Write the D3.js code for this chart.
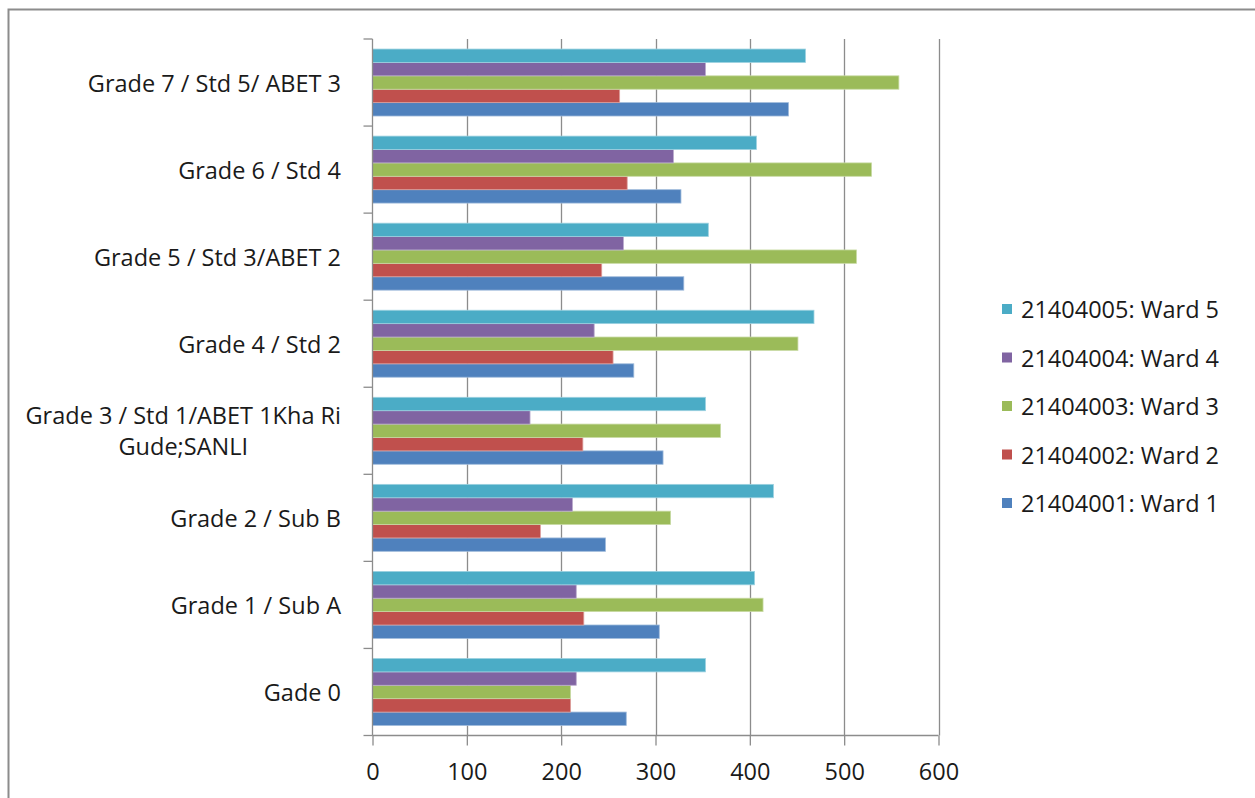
<!DOCTYPE html>
<html>
<head>
<meta charset="utf-8">
<script src="https://cdn.jsdelivr.net/npm/d3@7/dist/d3.min.js"></script>
<style>
  html, body { margin: 0; padding: 0; background: #fff; }
  svg { display: block; }
  text { font-family: "Open Sans", "Noto Sans", sans-serif; fill: #1a1a1a; }
</style>
</head>
<body>
<svg id="chart" width="1255" height="798"></svg>
<script>
// Categories, bottom to top
const categories = [
  "Gade 0",
  "Grade 1 / Sub A",
  "Grade 2 / Sub B",
  "Grade 3 / Std 1/ABET 1Kha Ri Gude;SANLI",
  "Grade 4 / Std 2",
  "Grade 5 / Std 3/ABET 2",
  "Grade 6 / Std 4",
  "Grade 7 / Std 5/ ABET 3"
];

const seriesNames = [
  "21404001: Ward 1",
  "21404002: Ward 2",
  "21404003: Ward 3",
  "21404004: Ward 4",
  "21404005: Ward 5"
];

const ward1 = [269, 304, 247, 308, 277, 330, 327, 441];
const ward2 = [210, 224, 178, 223, 255, 243, 270, 262];
const ward3 = [210, 414, 316, 369, 451, 513, 529, 558];
const ward4 = [216, 216, 212, 167, 235, 266, 319, 353];
const ward5 = [353, 405, 425, 353, 468, 356, 407, 459];

const seriesColors = ["#4F81BD", "#C0504D", "#9BBB59", "#8064A2", "#4BACC6"];
const xTicks = [0, 100, 200, 300, 400, 500, 600];

const seriesValues = [ward1, ward2, ward3, ward4, ward5];
const series = seriesNames.map((name, i) => ({
  name, color: seriesColors[i], values: seriesValues[i]
}));

const FONT = 23.5;
const svg = d3.select("#chart");

// Outer chart frame (only top and left edges fall inside the view)
svg.append("rect")
  .attr("x", 8.5).attr("y", 9.5)
  .attr("width", 1300).attr("height", 900)
  .attr("fill", "#fff")
  .attr("stroke", "#8c8c8c")
  .attr("stroke-width", 2);

const plot = { left: 372.5, right: 938.5, top: 39, bottom: 735.5 };

const x = d3.scaleLinear().domain([0, 600]).range([plot.left, plot.right]);

// Top category first in the band scale
const y = d3.scaleBand()
  .domain(categories.slice().reverse())
  .range([plot.top, plot.bottom])
  .paddingInner(0).paddingOuter(0);

// Series inside a band: Ward 5 on top, Ward 1 at the bottom
const ySub = d3.scaleBand()
  .domain(seriesNames.slice().reverse())
  .range([0, y.bandwidth()])
  .paddingInner(0).paddingOuter(0.75);

// Vertical gridlines
svg.append("g")
  .selectAll("line")
  .data(xTicks.filter(d => d > 0))
  .join("line")
  .attr("x1", d => Math.round(x(d)) + 0.5)
  .attr("x2", d => Math.round(x(d)) + 0.5)
  .attr("y1", plot.top)
  .attr("y2", plot.bottom)
  .attr("stroke", "#8c8c8c")
  .attr("stroke-width", 1.3);

// Bars
const groups = svg.append("g")
  .selectAll("g")
  .data(categories)
  .join("g")
  .attr("transform", d => `translate(0,${y(d)})`);

groups.selectAll("rect")
  .data((d, ci) => series.map(s => ({ s, v: s.values[ci] })))
  .join("rect")
  .attr("x", x(0))
  .attr("y", d => ySub(d.s.name))
  .attr("width", d => x(d.v) - x(0))
  .attr("height", ySub.bandwidth())
  .attr("fill", d => d.s.color)
  .attr("stroke", d => d3.interpolateRgb(d.s.color, "#ffffff")(0.45))
  .attr("stroke-width", 0.8);

// Bottom value axis
const xAxis = d3.axisBottom(x)
  .tickValues(xTicks)
  .tickSize(10)
  .tickPadding(18)
  .tickFormat(d3.format("d"));

const gx = svg.append("g")
  .attr("transform", `translate(0,${plot.bottom})`)
  .call(xAxis);
gx.select(".domain").attr("stroke", "#8c8c8c").attr("stroke-width", 1.3)
  .attr("d", `M${plot.left},0H${plot.right}`);
gx.selectAll(".tick line").attr("stroke", "#8c8c8c").attr("stroke-width", 1.3);
gx.selectAll(".tick text")
  .style("font-size", FONT + "px")
  .style("font-family", null)
  .attr("font-family", null)
  .attr("fill", "#1a1a1a");

// Left category axis: line plus ticks on band boundaries
const gy = svg.append("g");
gy.append("line")
  .attr("x1", plot.left).attr("x2", plot.left)
  .attr("y1", plot.top).attr("y2", plot.bottom)
  .attr("stroke", "#8c8c8c").attr("stroke-width", 1.3);
gy.selectAll("line.tk")
  .data(d3.range(categories.length + 1))
  .join("line")
  .attr("class", "tk")
  .attr("x1", plot.left - 9).attr("x2", plot.left)
  .attr("y1", i => plot.top + i * y.step())
  .attr("y2", i => plot.top + i * y.step())
  .attr("stroke", "#8c8c8c").attr("stroke-width", 1.3);

// Category labels, wrapped when too long
const labelRight = 341;
const maxLabelWidth = 335;
const lineHeight = 31;

categories.forEach(cat => {
  const cy = y(cat) + y.bandwidth() / 2;
  const t = gy.append("text")
    .style("font-size", FONT + "px")
    .attr("dominant-baseline", "central");
  // greedy word wrap
  const words = cat.split(" ");
  const lines = [];
  let cur = [];
  const probe = gy.append("text").style("font-size", FONT + "px");
  words.forEach(w => {
    const test = cur.concat(w).join(" ");
    probe.text(test);
    if (probe.node().getComputedTextLength() > maxLabelWidth && cur.length) {
      lines.push(cur.join(" "));
      cur = [w];
    } else {
      cur.push(w);
    }
  });
  lines.push(cur.join(" "));
  const widths = lines.map(l => { probe.text(l); return probe.node().getComputedTextLength(); });
  probe.remove();

  if (lines.length === 1) {
    t.attr("x", labelRight).attr("y", cy).attr("text-anchor", "end").text(cat);
  } else {
    const W = d3.max(widths);
    const cx = labelRight - W / 2;
    t.attr("text-anchor", "middle");
    lines.forEach((l, i) => {
      t.append("tspan")
        .attr("x", cx)
        .attr("y", cy + (i - (lines.length - 1) / 2) * lineHeight)
        .text(l);
    });
  }
});

// Legend: Ward 5 at the top
const legend = svg.append("g");
const legendItems = series.slice().reverse();
const legendY = d3.scalePoint()
  .domain(legendItems.map(d => d.name))
  .range([309, 503]);

const li = legend.selectAll("g")
  .data(legendItems)
  .join("g")
  .attr("transform", d => `translate(1002,${legendY(d.name)})`);
li.append("rect")
  .attr("x", 0).attr("y", -5)
  .attr("width", 10).attr("height", 10)
  .attr("fill", d => d.color);
li.append("text")
  .attr("x", 19).attr("y", 0)
  .attr("dominant-baseline", "central")
  .style("font-size", FONT + "px")
  .text(d => d.name);
</script>
</body>
</html>
